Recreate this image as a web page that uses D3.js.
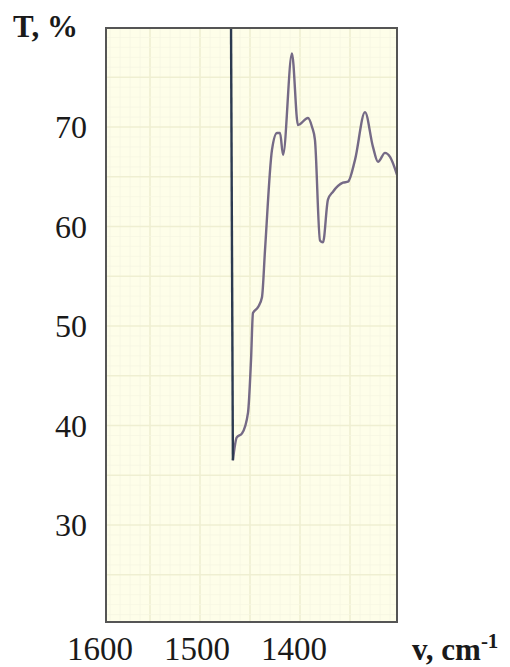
<!DOCTYPE html>
<html>
<head>
<meta charset="utf-8">
<script src="https://cdn.jsdelivr.net/npm/d3@7"></script>
<style>
  body { margin: 0; background: #ffffff; }
  svg text { font-family: 'Liberation Serif', 'Times New Roman', serif; fill: #1a1a1a; }
</style>
</head>
<body>
<svg id="chart" width="510" height="667"></svg>
<script>
// ---- data ----
// descending trace (dark line), wavenumber cm-1 / transmittance %
const downWn = [1465, 1463]
const downT = [82, 36.5]

// rising trace (purple-grey line)
const upWn = [1463, 1459, 1453.6, 1447.4, 1444.3, 1442.3, 1437.1, 1433, 1429.9, 1422.7,
  1417.5, 1414.4, 1411.3, 1402.1, 1395.9, 1385.6, 1381.4, 1378.4, 1373.2, 1370.1,
  1365, 1359.8, 1349.5, 1344.3, 1337.1, 1326.8, 1318.6, 1313.4, 1306.2, 1301, 1293.8]
const upT = [36.5, 38.8, 39.2, 41.3, 46.6, 51.3, 51.9, 52.9, 57.6, 67.7,
  69.4, 69.4, 67.2, 77.4, 70.2, 70.9, 70.0, 68.7, 58.6, 58.4,
  62.7, 63.5, 64.4, 64.5, 66.7, 71.5, 68.0, 66.5, 67.4, 67.0, 65.2]

const xTicks = [1600, 1500, 1400]
const yTicks = [30, 40, 50, 60, 70]

// ---- layout ----
const frame = { left: 106, top: 28, right: 397, bottom: 622 }
const svg = d3.select('#chart')

const x = d3.scaleLinear().domain([1600, 1400]).range([100, 294])
const y = d3.scaleLinear().domain([70, 30]).range([127, 525])

// chart paper background
svg.append('rect')
  .attr('x', frame.left)
  .attr('y', frame.top)
  .attr('width', frame.right - frame.left)
  .attr('height', frame.bottom - frame.top)
  .attr('fill', '#fefee9')

// paper grid, vertical divisions every 10 px, heavier every 50 px
const paper = d3.scaleLinear().domain([0, 30]).range([100, 400])
const grid = svg.append('g').attr('class', 'grid')
d3.range(1, 30).forEach(k => {
  const gx = paper(k)
  if (gx <= frame.left || gx >= frame.right) return
  grid.append('line')
    .attr('x1', gx).attr('x2', gx)
    .attr('y1', frame.top).attr('y2', frame.bottom)
    .attr('stroke', k % 5 === 0 ? '#efefd2' : '#f6f6e2')
    .attr('stroke-width', k % 5 === 0 ? 1.6 : 0.8)
})
d3.range(21, 80).forEach(v => {
  const gy = y(v)
  if (gy <= frame.top || gy >= frame.bottom) return
  grid.append('line')
    .attr('x1', frame.left).attr('x2', frame.right)
    .attr('y1', gy).attr('y2', gy)
    .attr('stroke', v % 5 === 0 ? '#efefd2' : '#f6f6e2')
    .attr('stroke-width', v % 5 === 0 ? 1.6 : 0.8)
})

// traces
const clip = svg.append('clipPath').attr('id', 'clip')
clip.append('rect')
  .attr('x', frame.left).attr('y', frame.top)
  .attr('width', frame.right - frame.left)
  .attr('height', frame.bottom - frame.top)

const line = d3.line()
  .x(d => x(d[0]))
  .y(d => y(d[1]))
  .curve(d3.curveMonotoneX)

const plot = svg.append('g').attr('clip-path', 'url(#clip)')

plot.append('path')
  .datum(d3.zip(upWn, upT))
  .attr('d', line)
  .attr('fill', 'none')
  .attr('stroke', '#756a86')
  .attr('stroke-width', 2.4)
  .attr('stroke-linejoin', 'round')

plot.append('path')
  .datum(d3.zip(downWn, downT))
  .attr('d', d3.line().x(d => x(d[0])).y(d => y(d[1])))
  .attr('fill', 'none')
  .attr('stroke', '#2c3a50')
  .attr('stroke-width', 2.4)

// frame
svg.append('rect')
  .attr('x', frame.left)
  .attr('y', frame.top)
  .attr('width', frame.right - frame.left)
  .attr('height', frame.bottom - frame.top)
  .attr('fill', 'none')
  .attr('stroke', '#555555')
  .attr('stroke-width', 2)

// tick labels
svg.append('g').selectAll('text')
  .data(yTicks)
  .join('text')
  .attr('x', 87)
  .attr('y', d => y(d))
  .attr('dy', '0.35em')
  .attr('text-anchor', 'end')
  .attr('font-size', 32)
  .text(d => d)

svg.append('g').selectAll('text')
  .data(xTicks)
  .join('text')
  .attr('x', d => x(d))
  .attr('y', 660)
  .attr('text-anchor', 'middle')
  .attr('font-size', 33)
  .text(d => d)

// axis titles
svg.append('text')
  .attr('x', 13)
  .attr('y', 37)
  .attr('font-size', 31)
  .attr('font-weight', 'bold')
  .text('T, %')

const xt = svg.append('text')
  .attr('x', 412)
  .attr('y', 660)
  .attr('font-size', 31)
  .attr('font-weight', 'bold')
xt.append('tspan').text('v, cm')
xt.append('tspan').attr('dy', -12).attr('font-size', 21).text('-1')
</script>
</body>
</html>
